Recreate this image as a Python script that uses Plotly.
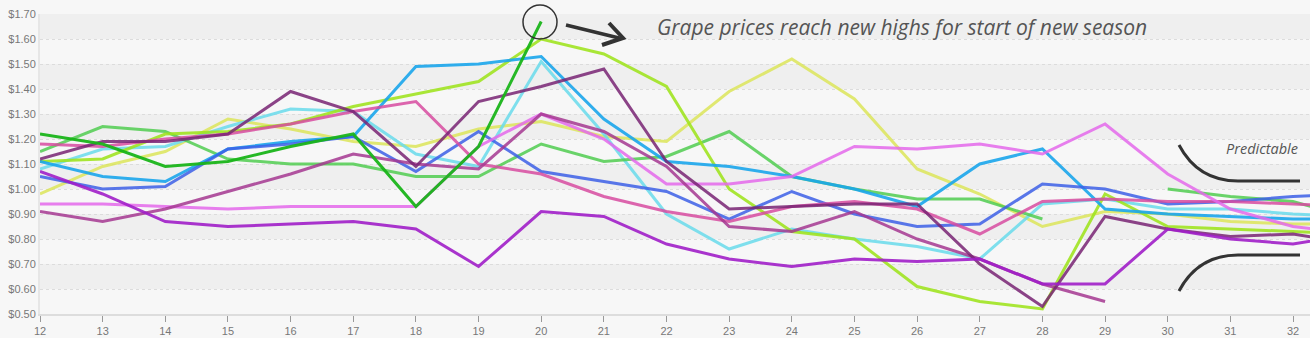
import plotly.graph_objects as go

weeks = list(range(12, 34))

s_green = [1.15, 1.25, 1.23, 1.12, 1.10, 1.10, 1.05, 1.05, 1.18, 1.11, 1.13, 1.23, 1.05, 1.00, 0.96, 0.96, 0.88, None, 1.00, 0.97, 0.95, 0.88]
s_darkgreen = [1.22, 1.18, 1.09, 1.11, 1.17, 1.22, 0.93, 1.17, 1.67] + [None] * 13
s_lime = [1.11, 1.12, 1.22, 1.23, 1.26, 1.33, 1.38, 1.43, 1.60, 1.54, 1.41, 1.00, 0.83, 0.80, 0.61, 0.55, 0.52, 0.98, 0.85, 0.84, 0.83, 0.82]
s_paleyellow = [0.98, 1.09, 1.15, 1.28, 1.24, 1.19, 1.17, 1.24, 1.27, 1.21, 1.19, 1.39, 1.52, 1.36, 1.08, 0.98, 0.85, 0.91, 0.90, 0.87, 0.86, 0.86]
s_lightcyan = [1.08, 1.16, 1.17, 1.25, 1.32, 1.31, 1.14, 1.09, 1.51, 1.22, 0.90, 0.76, 0.84, 0.80, 0.77, 0.72, 0.94, 0.96, 0.92, 0.92, 0.90, 0.89]
s_skyblue = [1.11, 1.05, 1.03, 1.16, 1.19, 1.21, 1.49, 1.50, 1.53, 1.28, 1.11, 1.09, 1.05, 1.00, 0.93, 1.10, 1.16, 0.92, 0.90, 0.89, 0.88, 0.88]
s_blue = [1.05, 1.00, 1.01, 1.16, 1.18, 1.21, 1.07, 1.23, 1.07, 1.03, 0.99, 0.88, 0.99, 0.90, 0.85, 0.86, 1.02, 1.00, 0.94, 0.95, 0.97, 0.98]
s_pink = [1.18, 1.17, 1.20, 1.22, 1.26, 1.31, 1.35, 1.10, 1.06, 0.97, 0.91, 0.87, 0.93, 0.95, 0.92, 0.82, 0.95, 0.96, 0.95, 0.95, 0.94, 0.93]
s_orchid = [0.94, 0.94, 0.93, 0.92, 0.93, 0.93, 0.93, 1.17, 1.30, 1.20, 1.02, 1.02, 1.05, 1.17, 1.16, 1.18, 1.14, 1.26, 1.06, 0.92, 0.85, 0.82]
s_purple = [1.07, 0.98, 0.87, 0.85, 0.86, 0.87, 0.84, 0.69, 0.91, 0.89, 0.78, 0.72, 0.69, 0.72, 0.71, 0.72, 0.62, 0.62, 0.84, 0.80, 0.78, 0.82]
s_plum = [1.12, 1.19, 1.19, 1.22, 1.39, 1.31, 1.09, 1.35, 1.41, 1.48, 1.11, 0.92, 0.93, 0.94, 0.94, 0.70, 0.53, 0.89, 0.84, 0.81, 0.82, 0.78]
s_mauve = [0.91, 0.87, 0.92, 0.99, 1.06, 1.14, 1.10, 1.08, 1.30, 1.23, 1.09, 0.85, 0.83, 0.91, 0.80, 0.72, 0.62, 0.55] + [None] * 4

series = [
    ("Pale yellow", s_paleyellow, "rgba(218,228,75,0.78)"),
    ("Light cyan", s_lightcyan, "rgba(105,218,235,0.85)"),
    ("Green", s_green, "rgba(80,205,80,0.85)"),
    ("Lime", s_lime, "rgba(158,228,28,0.88)"),
    ("Sky blue", s_skyblue, "rgba(25,165,235,0.9)"),
    ("Blue", s_blue, "rgba(60,95,230,0.85)"),
    ("Pink", s_pink, "rgba(215,75,160,0.85)"),
    ("Orchid", s_orchid, "rgba(228,105,235,0.85)"),
    ("Mauve", s_mauve, "rgba(165,55,145,0.85)"),
    ("Plum", s_plum, "rgba(120,35,115,0.85)"),
    ("Purple", s_purple, "rgba(160,30,200,0.9)"),
    ("Dark green", s_darkgreen, "rgba(25,180,25,0.95)"),
]

fig = go.Figure()
for name, vals, col in series:
    fig.add_trace(go.Scatter(x=weeks, y=vals, mode="lines", name=name,
                             line=dict(color=col, width=3), connectgaps=False))

# pixel -> paper helpers (plot area: x 40..1310, y 14..314)
def px_(px):
    return (px - 40) / 1270.0

def py_(py):
    return (314 - py) / 300.0

def pt(p):
    return f"{px_(p[0]):.5f},{py_(p[1]):.5f}"

shapes = []
for lo in [0.6, 0.8, 1.0, 1.2, 1.4, 1.6]:
    shapes.append(dict(type="rect", xref="paper", yref="y", x0=0, x1=1, y0=lo, y1=lo + 0.1,
                       fillcolor="#efefef", line=dict(width=0), layer="below"))

ink = "#333333"
# circle around the peak
shapes.append(dict(type="circle", xref="paper", yref="paper", x0=px_(523), x1=px_(557), y0=py_(39), y1=py_(5),
                   line=dict(color=ink, width=1.5)))

# arrow
shapes.append(dict(type="path", xref="paper", yref="paper",
                   path=f"M {pt((566, 25))} L {pt((619, 38))}",
                   line=dict(color=ink, width=3.5)))
shapes.append(dict(type="path", xref="paper", yref="paper",
                   path=f"M {pt((609, 23))} L {pt((623, 38))} L {pt((602, 45))}",
                   line=dict(color=ink, width=4)))
# brackets
shapes.append(dict(type="path", xref="paper", yref="paper",
                   path=f"M {pt((1179, 145))} Q {pt((1198, 181))} {pt((1238, 181))} L {pt((1300, 181))}",
                   line=dict(color=ink, width=3)))
shapes.append(dict(type="path", xref="paper", yref="paper",
                   path=f"M {pt((1179, 291))} Q {pt((1198, 255))} {pt((1238, 255))} L {pt((1300, 255))}",
                   line=dict(color=ink, width=3)))

annotations = [
    dict(x=px_(655), y=py_(27), xref="paper", yref="paper", text="Grape prices reach new highs for start of new season",
         showarrow=False, xanchor="left", yanchor="middle",
         font=dict(family="Open Sans", size=21, color="#555555", style="italic")),
    dict(x=px_(1224), y=py_(148), xref="paper", yref="paper", text="Predictable",
         showarrow=False, xanchor="left", yanchor="middle",
         font=dict(family="Open Sans", size=14.5, color="#555555", style="italic")),
]

fig.update_layout(
    width=1310, height=338,
    margin=dict(l=40, r=0, t=14, b=24),
    paper_bgcolor="#f7f7f7", plot_bgcolor="#f7f7f7",
    showlegend=False,
    shapes=shapes, annotations=annotations,
    font=dict(family="Liberation Sans, Arial, sans-serif", size=11, color="#777777"),
    xaxis=dict(range=[12, 12 + 1270 / 62.65], tickmode="linear", tick0=12, dtick=1,
               showgrid=False, zeroline=False, showline=True, linecolor="#dddddd", linewidth=2,
               ticks="outside", ticklen=6, tickcolor="#999999", tickwidth=1,
               tickfont=dict(size=11, color="#777777")),
    yaxis=dict(range=[0.5, 1.7], tickmode="linear", tick0=0.5, dtick=0.1,
               tickprefix="$", tickformat=".2f",
               showgrid=True, gridcolor="#dcdcdc", griddash="dot", gridwidth=1,
               zeroline=False, showline=True, linecolor="#e6e6e6", linewidth=2,
               ticks="", tickfont=dict(size=11, color="#777777")),
)

fig.write_html("out.html")
